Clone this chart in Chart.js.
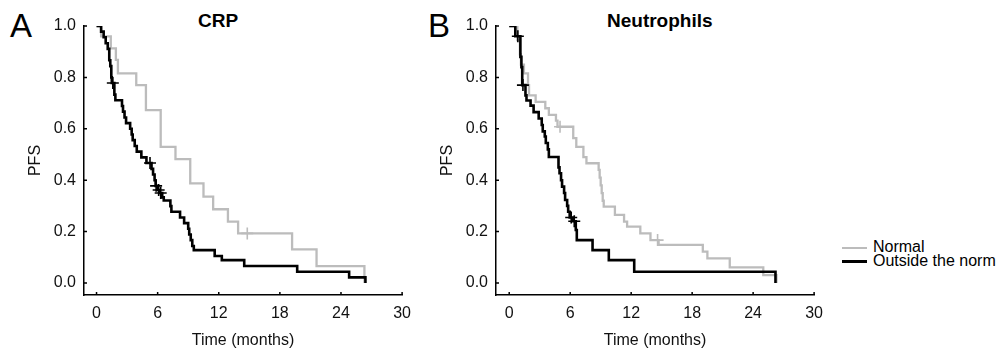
<!DOCTYPE html>
<html>
<head>
<meta charset="utf-8">
<script src="https://cdn.jsdelivr.net/npm/chart.js@4.4.1/dist/chart.umd.min.js"></script>
<style>
  body { margin: 0; background: #fff; }
  #wrap { position: relative; width: 1002px; height: 355px; font-family: 'Liberation Sans', Arial, sans-serif; color: #000; }
  #wrap canvas { position: absolute; top: 0; }
  .tag { position: absolute; font-size: 33px; line-height: 33px; }
  .title { position: absolute; font-weight: bold; font-size: 19px; line-height: 19px; white-space: nowrap; }
  .leg { position: absolute; left: 842px; font-size: 16px; line-height: 16px; white-space: nowrap; }
  .leg span { display: inline-block; width: 25px; vertical-align: middle; margin-right: 6px; }
</style>
</head>
<body>
<div id="wrap">
  <div class="tag" style="left:10px;top:9px">A</div>
  <div class="tag" style="left:428px;top:9px">B</div>
  <div class="title" style="left:198px;top:11px">CRP</div>
  <div class="title" style="left:607px;top:11px">Neutrophils</div>
  <canvas id="chartA" width="420" height="355" style="left:0"></canvas>
  <canvas id="chartB" width="420" height="355" style="left:412px"></canvas>
  <div id="legend"></div>
</div>
<script>
const FONT = "'Liberation Sans', Arial, sans-serif";
const GRAY = '#bcbcbc';
const BLACK = '#000000';

const SERIES_NAMES = ['Normal', 'Outside the norm'];
const MONTH_TICKS = [0, 6, 12, 18, 24, 30];
const PFS_TICKS = [0, 0.2, 0.4, 0.6, 0.8, 1.0];

// CRP - normal
const crpNormalT = [0, 0.45, 1.4, 1.9, 2.1, 3.9, 4.85, 6.3, 7.75, 9.2, 10.5, 11.45, 12.9, 13.9, 19.2, 21.6, 26.3];
const crpNormalS = [1, 0.96, 0.913, 0.868, 0.816, 0.77, 0.673, 0.53, 0.482, 0.388, 0.336, 0.287, 0.239, 0.193, 0.131, 0.066, 0];
const crpNormalCensorT = [14.8];
const crpNormalCensorS = [0.193];

// CRP - outside the norm
const crpOutT = [0, 0.45, 0.7, 0.9, 1.1, 1.25, 1.35, 1.45, 1.5, 1.75, 1.85, 2.5, 2.6, 2.75, 2.9, 3.3, 3.45, 3.55, 3.75, 3.95, 4.4, 4.9,
  5.4, 5.55, 5.7, 5.8, 6.0, 6.2, 6.45, 6.6, 7.25, 7.35, 8.2, 8.6, 9.0, 9.1, 9.25, 9.4, 9.55, 11.6, 12.3, 14.5, 19.7, 24.8, 26.4];
const crpOutS = [1, 0.978, 0.956, 0.933, 0.911, 0.867, 0.844, 0.8, 0.778, 0.733, 0.711, 0.689, 0.667, 0.644, 0.622, 0.6, 0.578, 0.556, 0.533, 0.511, 0.489, 0.467,
  0.444, 0.422, 0.4, 0.378, 0.362, 0.35, 0.333, 0.321, 0.299, 0.277, 0.255, 0.233, 0.211, 0.189, 0.167, 0.144, 0.128, 0.105, 0.089, 0.066, 0.044, 0.022, 0];
const crpOutCensorT = [1.6, 5.25, 5.85, 6.1, 6.3];
const crpOutCensorS = [0.778, 0.467, 0.378, 0.362, 0.35];

// Neutrophils - normal
const neuNormalT = [0, 0.8, 1.05, 1.15, 1.45, 1.85, 1.95, 2.6, 3.55, 3.9, 4.6, 4.75, 6.3, 6.6, 7.3, 7.6, 8.8, 8.9, 9.0, 9.1, 9.2, 9.3,
  10.4, 11.3, 11.6, 12.9, 13.9, 14.7, 19.05, 19.5, 21.7, 25.0, 26.3];
const neuNormalS = [1, 0.945, 0.89, 0.85, 0.816, 0.77, 0.73, 0.705, 0.68, 0.654, 0.632, 0.608, 0.564, 0.53, 0.49, 0.466, 0.44, 0.41, 0.38, 0.35, 0.32, 0.297,
  0.265, 0.239, 0.219, 0.193, 0.167, 0.148, 0.122, 0.096, 0.061, 0.031, 0];
const neuNormalCensorT = [5.0, 14.6];
const neuNormalCensorS = [0.608, 0.167];

// Neutrophils - outside the norm
const neuOutT = [0, 0.6, 1.1, 1.2, 1.28, 1.6, 1.7, 2.1, 2.4, 2.9, 3.2, 3.3, 3.5, 3.6, 3.8, 3.9, 4.85, 4.95, 5.1, 5.2, 5.4, 5.5, 5.7, 5.8, 5.95,
  6.3, 6.55, 6.65, 8.2, 9.8, 12.3, 26.2];
const neuOutS = [1, 0.96, 0.88, 0.84, 0.77, 0.73, 0.71, 0.69, 0.665, 0.64, 0.615, 0.59, 0.57, 0.545, 0.52, 0.49, 0.45, 0.427, 0.4, 0.375, 0.35, 0.323, 0.3, 0.277, 0.255,
  0.24, 0.206, 0.167, 0.128, 0.089, 0.044, 0];
const neuOutCensorT = [0.85, 1.35, 6.1, 6.4];
const neuOutCensorS = [0.96, 0.77, 0.255, 0.24];

Chart.defaults.font.family = FONT;

// small tick marks drawn inside the axes, as in the original figure
const inwardTicks = {
  id: 'inwardTicks',
  afterDraw(chart) {
    const { ctx, scales: { x, y } } = chart;
    ctx.save();
    ctx.strokeStyle = '#000';
    ctx.lineWidth = 1.5;
    ctx.beginPath();
    MONTH_TICKS.forEach(v => {
      const px = x.getPixelForValue(v);
      ctx.moveTo(px, x.top);
      ctx.lineTo(px, x.top - 3);
    });
    PFS_TICKS.forEach(v => {
      const py = y.getPixelForValue(v);
      ctx.moveTo(y.right, py);
      ctx.lineTo(y.right + 3, py);
    });
    ctx.stroke();
    ctx.restore();
  }
};

function points(t, s) {
  return t.map((v, i) => ({ x: v, y: s[i] }));
}

function kmChart(id, xMin, normal, outside) {
  new Chart(document.getElementById(id), {
    type: 'line',
    data: {
      datasets: [
        { label: SERIES_NAMES[1], data: points(outside.t, outside.s), stepped: 'before', borderColor: BLACK, borderWidth: 2.6, pointRadius: 0, fill: false },
        { data: points(outside.ct, outside.cs), showLine: false, pointStyle: 'cross', pointRadius: 6, borderColor: BLACK, borderWidth: 1.6 },
        { label: SERIES_NAMES[0], data: points(normal.t, normal.s), stepped: 'before', borderColor: GRAY, borderWidth: 2.3, pointRadius: 0, fill: false },
        { data: points(normal.ct, normal.cs), showLine: false, pointStyle: 'cross', pointRadius: 6, borderColor: GRAY, borderWidth: 1.6 }
      ]
    },
    options: {
      responsive: false,
      animation: false,
      layout: { padding: { left: 0, right: 13, top: 26, bottom: 0 } },
      plugins: { legend: { display: false }, tooltip: { enabled: false } },
      scales: {
        x: {
          type: 'linear', min: xMin, max: 30,
          afterBuildTicks: s => { s.ticks = MONTH_TICKS.map(v => ({ value: v })); },
          afterFit: s => { s.height = 60; },
          grid: { display: false, drawTicks: false },
          border: { display: true, color: '#000', width: 1.5 },
          ticks: { padding: 9, color: '#111', font: { size: 16 }, maxRotation: 0, autoSkip: false },
          title: { display: true, text: 'Time (months)', color: '#111', font: { size: 16 }, padding: { top: 0, bottom: 5 } }
        },
        y: {
          type: 'linear', min: -0.0467, max: 1,
          afterBuildTicks: s => { s.ticks = PFS_TICKS.map(v => ({ value: v })); },
          afterFit: s => { s.width = 84; },
          grid: { display: false, drawTicks: false },
          border: { display: true, color: '#000', width: 1.5 },
          ticks: { padding: 8, color: '#111', font: { size: 16 }, callback: v => v.toFixed(1) },
          title: { display: true, text: 'PFS', color: '#111', font: { size: 16 }, padding: { top: 26, bottom: 0 } }
        }
      }
    },
    plugins: [inwardTicks]
  });
}

kmChart('chartA', -1.23,
  { t: crpNormalT, s: crpNormalS, ct: crpNormalCensorT, cs: crpNormalCensorS },
  { t: crpOutT, s: crpOutS, ct: crpOutCensorT, cs: crpOutCensorS });
kmChart('chartB', -1.3,
  { t: neuNormalT, s: neuNormalS, ct: neuNormalCensorT, cs: neuNormalCensorS },
  { t: neuOutT, s: neuOutS, ct: neuOutCensorT, cs: neuOutCensorS });

// legend
const legend = document.getElementById('legend');
const legendColors = [GRAY, BLACK];
const legendWidths = [2, 3];
const legendTops = [239, 253];
SERIES_NAMES.forEach((name, i) => {
  const row = document.createElement('div');
  row.className = 'leg';
  row.style.top = legendTops[i] + 'px';
  row.innerHTML = `<span style="border-top:${legendWidths[i]}px solid ${legendColors[i]}"></span>${name}`;
  legend.appendChild(row);
});
</script>
</body>
</html>
